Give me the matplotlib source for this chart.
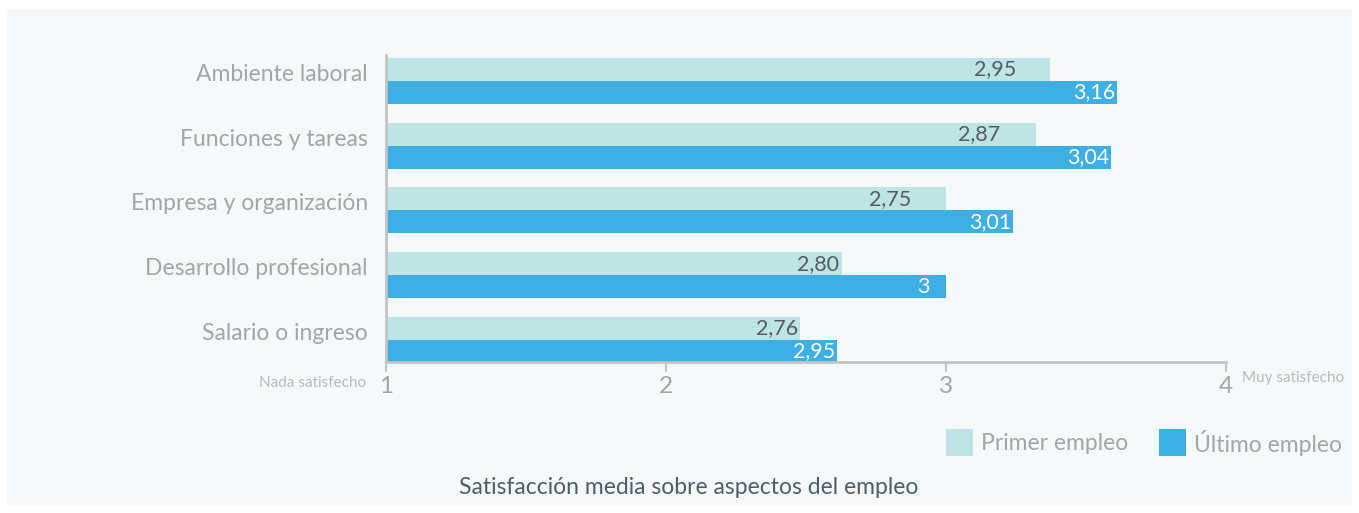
import matplotlib
matplotlib.use("Agg")
import matplotlib.pyplot as plt
from matplotlib.patches import Rectangle
import matplotlib.transforms as mtransforms
import numpy as np

plt.rcParams['font.family'] = ['Lato', 'DejaVu Sans']

# data (bar lengths as drawn on the 1-4 scale, and the printed labels)
categorias = ["Ambiente laboral", "Funciones y tareas", "Empresa y organización",
              "Desarrollo profesional", "Salario o ingreso"]
primer_empleo = [3.37, 3.32, 3.00, 2.63, 2.48]
ultimo_empleo = [3.61, 3.59, 3.24, 3.00, 2.61]
primer_txt = ["2,95", "2,87", "2,75", "2,80", "2,76"]
ultimo_txt = ["3,16", "3,04", "3,01", "3", "2,95"]
xticks = [1, 2, 3, 4]

c_primer = "#bfe4e5"
c_ultimo = "#3eafe4"
bg = "#f4f9fc"
gris = "#a2a5a9"
oscuro = "#535c66"

fig = plt.figure(figsize=(13.59, 5.13), dpi=100)
fig.patch.set_facecolor("white")
fig.patches.append(Rectangle((7 / 1359, 1 - 505 / 513), 1345 / 1359, 496 / 513,
                             transform=fig.transFigure, facecolor=bg,
                             edgecolor="none", zorder=-5))

ax = fig.add_axes([386 / 1359, 1 - 362 / 513, 840 / 1359, 307 / 513])
ax.set_facecolor("none")
ax.set_zorder(2)

y = np.arange(len(categorias))
h = 0.355
ax.barh(y - h / 2, [v - 1 for v in primer_empleo], left=1, height=h, color=c_primer, zorder=2)
ax.barh(y + h / 2, [v - 1 for v in ultimo_empleo], left=1, height=h, color=c_ultimo, zorder=2)

# value labels (pixel offsets from bar end)
pad_primer = [-54, -57, -56, -24, -23]
for i in range(len(categorias)):
    tr = mtransforms.offset_copy(ax.transData, fig=fig, x=pad_primer[i] * 0.72, y=0, units='points')
    ax.text(primer_empleo[i], y[i] - h / 2, primer_txt[i], transform=tr, ha="center",
            va="center", fontsize=15.5, color=oscuro, zorder=3)
    tr2 = mtransforms.offset_copy(ax.transData, fig=fig, x=-23 * 0.72, y=0, units='points')
    ax.text(ultimo_empleo[i], y[i] + h / 2, ultimo_txt[i], transform=tr2, ha="center",
            va="center", fontsize=15.5, color="white", zorder=3)

ax.set_xlim(1, 4)
ax.set_ylim(4.341, -0.40)
ax.set_xticks(xticks)
ax.set_xticklabels([str(t) for t in xticks])
ax.set_yticks(y - 0.13)
ax.set_yticklabels(categorias)
ax.tick_params(axis="y", length=0, pad=13, labelsize=16.5, labelcolor=gris)
ax.tick_params(axis="x", direction="out", length=7, width=1.5, color="#c4c4c4",
               pad=3, labelsize=17.5, labelcolor=gris)
for s in ["top", "right"]:
    ax.spines[s].set_visible(False)
for s in ["left", "bottom"]:
    ax.spines[s].set_color("#c4c4c4")
    ax.spines[s].set_linewidth(2)

fig.text(366 / 1359, 1 - 383 / 513, "Nada satisfecho", ha="right", va="center",
         fontsize=11, color="#b8bbbe")
fig.text(1242 / 1359, 1 - 378 / 513, "Muy satisfecho", ha="left", va="center",
         fontsize=11, color="#b8bbbe")

# legend
for x0, col, lab in [(946, c_primer, "Primer empleo"), (1159, c_ultimo, "Último empleo")]:
    fig.patches.append(Rectangle((x0 / 1359, 1 - 456 / 513), 27 / 1359, 27 / 513,
                                 transform=fig.transFigure, facecolor=col,
                                 edgecolor="none", zorder=1))
    fig.text((x0 + 35) / 1359, 1 - 443 / 513, lab, ha="left", va="center",
             fontsize=16.5, color=gris)

fig.text(689 / 1359, 1 - 487 / 513, "Satisfacción media sobre aspectos del empleo",
         ha="center", va="center", fontsize=16.5, color=oscuro)

fig.savefig("out.png", dpi=100, facecolor=fig.get_facecolor())
